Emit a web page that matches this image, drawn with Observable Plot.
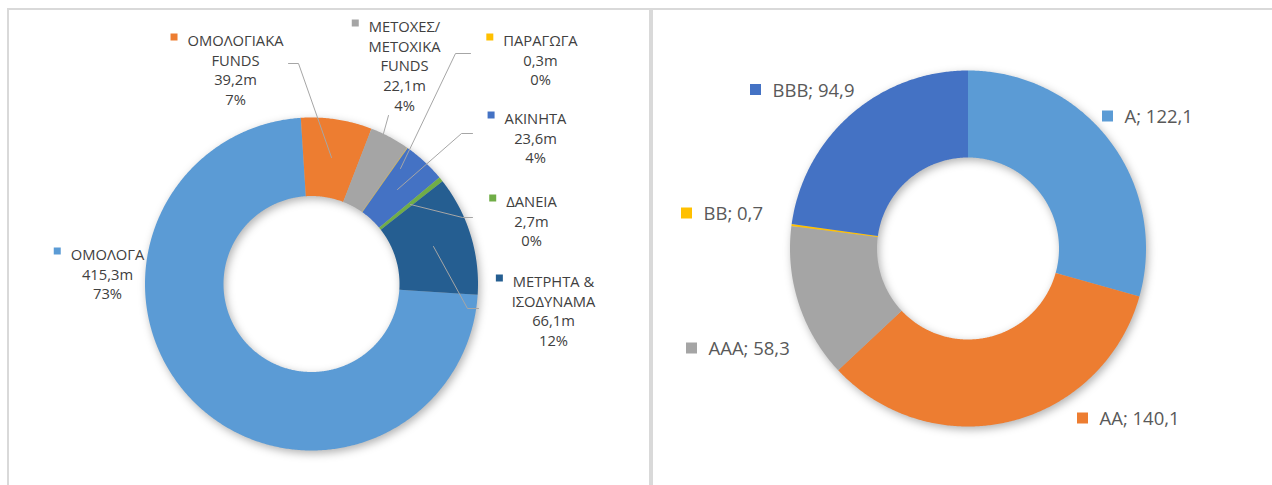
<!DOCTYPE html>
<html><head><meta charset="utf-8">
<script src="https://cdn.jsdelivr.net/npm/d3@7"></script>
<script src="https://cdn.jsdelivr.net/npm/@observablehq/plot@0.6"></script>
<style>
html,body{margin:0;padding:0;background:#fff;}
body{width:1272px;height:485px;position:relative;overflow:hidden;font-family:"Open Sans","Noto Sans",sans-serif;}
.panel{position:absolute;box-sizing:border-box;border:0 solid #d9d9d9;}
#left{left:7px;top:8px;width:644px;height:540px;border-top-width:2px;border-left-width:2px;border-right-width:2px;}
#right{left:651px;top:8px;width:640px;height:540px;border-top-width:2px;border-left-width:2px;}
.chart{position:absolute;top:0;left:0;}
</style></head><body>
<div id="left" class="panel"></div><div id="right" class="panel"></div>
<script>
// ---------- data ----------
const assetCategories = ["ΟΜΟΛΟΓΑ", "ΟΜΟΛΟΓΙΑΚΑ\nFUNDS", "ΜΕΤΟΧΕΣ/\nΜΕΤΟΧΙΚΑ\nFUNDS", "ΠΑΡΑΓΩΓΑ", "ΑΚΙΝΗΤΑ", "ΔΑΝΕΙΑ", "ΜΕΤΡΗΤΑ &\nΙΣΟΔΥΝΑΜΑ"];
const assetValues = [415.3, 39.2, 22.1, 0.3, 23.6, 2.7, 66.1];
const assetColors = ["#5B9BD5", "#ED7D31", "#A5A5A5", "#FFC000", "#4472C4", "#70AD47", "#255E91"];

const ratingCategories = ["A", "AA", "AAA", "BB", "BBB"];
const ratingValues = [122.1, 140.1, 58.3, 0.7, 94.9];
const ratingColors = ["#5B9BD5", "#ED7D31", "#A5A5A5", "#FFC000", "#4472C4"];

// ---------- layout (page pixels) ----------
const fam = '"Open Sans", "Noto Sans", sans-serif';
const leftLayout = {offX: 9, offY: 10, W: 640, H: 475, cx: 311, cy: 283.5, R: 166.5, inner: 88 / 166.5, start: 93.7};
const rightLayout = {offX: 653, offY: 10, W: 619, H: 475, cx: 967.5, cy: 248, R: 178, inner: 91 / 178, start: 0};
// label anchors: left = [text centre x, first line centre y]; right = [text start x, centre y]
const leftLabelPos = [[107, 251], [235, 37], [404, 23], [540, 37], [535, 115], [531, 198], [553, 278]];
const rightLabelPos = [[1124, 117], [1099, 419], [708, 349], [703, 214], [772, 90.5]];
const leftLeaders = [
  [[288, 63], [298, 63], [331, 157]],
  [[388, 115], [383, 133]],
  [[470, 53], [455, 53], [400, 168]],
  [[472, 133], [461, 133], [397, 189]],
  [[472, 217], [462, 217], [410, 204]],
  [[478, 308], [467, 308], [433, 246]]
];

// ---------- helpers ----------
const ctx = document.createElement("canvas").getContext("2d");
function measure(text, size) { ctx.font = `${size}px ${fam}`; return ctx.measureText(text).width; }
const leftFs = 100 * 96 / measure("ΟΜΟΛΟΓΙΑΚΑ", 100);
const rightFs = 100 * 82 / measure("BBB; 94,9", 100);

const comma = v => v.toFixed(1).replace(".", ",");
function ux(L, px) { return (px - L.cx) / L.R; }
function uy(L, py) { return -(py - L.cy) / L.R; }

function slicePolys(cats, vals, L) {
  const a0 = L.start * Math.PI / 180;
  const arcs = d3.pie().sort(null).value(d => d).startAngle(a0).endAngle(a0 + 2 * Math.PI)(vals);
  const rows = [];
  arcs.forEach((a, i) => {
    const n = Math.max(2, Math.ceil((a.endAngle - a.startAngle) / (Math.PI / 360)) + 1);
    const ang = k => a.startAngle + (a.endAngle - a.startAngle) * k / (n - 1);
    for (let k = 0; k < n; k++) rows.push({cat: cats[i], x: Math.sin(ang(k)), y: Math.cos(ang(k))});
    for (let k = n - 1; k >= 0; k--) rows.push({cat: cats[i], x: L.inner * Math.sin(ang(k)), y: L.inner * Math.cos(ang(k))});
  });
  return rows;
}

function scales(L) {
  const cx = L.cx - L.offX, cy = L.cy - L.offY;
  return {
    x: {type: "linear", domain: [-cx / L.R, (L.W - cx) / L.R], range: [0, L.W], axis: null},
    y: {type: "linear", domain: [cy / L.R, -(L.H - cy) / L.R], range: [0, L.H], axis: null}
  };
}

function shadow(svg) {
  const g = svg.querySelector('g[aria-label="line"]');
  if (g) g.style.filter = "drop-shadow(2px 3px 4px rgba(0,0,0,0.30))";
}

// ---------- left chart ----------
{
  const L = leftLayout;
  const total = d3.sum(assetValues);
  const labels = assetCategories.map((c, i) => {
    const first = c.split("\n")[0];
    const tx = leftLabelPos[i][0], ty = leftLabelPos[i][1];
    const w = measure(first, leftFs);
    return {
      cat: c,
      text: `${c}\n${comma(assetValues[i])}m\n${Math.round(assetValues[i] / total * 100)}%`,
      x: ux(L, tx), y: uy(L, ty - 0.357 * leftFs),
      sx: ux(L, tx - w / 2 - 10 - 3.5), sy: uy(L, ty - 0.5)
    };
  });
  const leaders = leftLeaders.flatMap((pts, j) => pts.map(p => ({id: j, x: ux(L, p[0]), y: uy(L, p[1])})));
  const s = scales(L);
  const svg = Plot.plot({
    width: L.W, height: L.H, margin: 0,
    x: s.x, y: s.y,
    color: {domain: assetCategories, range: assetColors, legend: false},
    style: {fontFamily: fam, background: "none", overflow: "visible"},
    marks: [
      Plot.line(slicePolys(assetCategories, assetValues, L), {x: "x", y: "y", z: "cat", fill: "cat", stroke: "none"}),
      Plot.line(leaders, {x: "x", y: "y", z: "id", stroke: "#a6a6a6", strokeWidth: 1}),
      Plot.dot(labels, {x: "sx", y: "sy", fill: "cat", symbol: "square", r: 7 / Math.sqrt(Math.PI), stroke: "none"}),
      Plot.text(labels, {x: "x", y: "y", text: "text", textAnchor: "middle", lineAnchor: "top", lineHeight: 19.6 / leftFs, fontSize: leftFs, fill: "#404040"})
    ]
  });
  svg.classList.add("chart");
  shadow(svg);
  document.getElementById("left").appendChild(svg);
}

// ---------- right chart ----------
{
  const L = rightLayout;
  const side = 11;
  const labels = ratingCategories.map((c, i) => {
    const tx = rightLabelPos[i][0], ty = rightLabelPos[i][1];
    return {
      cat: c,
      text: `${c}; ${comma(ratingValues[i])}`,
      x: ux(L, tx), y: uy(L, ty),
      sx: ux(L, tx - 11.5 - side / 2), sy: uy(L, ty - 1.5)
    };
  });
  const s = scales(L);
  const svg = Plot.plot({
    width: L.W, height: L.H, margin: 0,
    x: s.x, y: s.y,
    color: {domain: ratingCategories, range: ratingColors, legend: false},
    style: {fontFamily: fam, background: "none", overflow: "visible"},
    marks: [
      Plot.line(slicePolys(ratingCategories, ratingValues, L), {x: "x", y: "y", z: "cat", fill: "cat", stroke: "none"}),
      Plot.dot(labels, {x: "sx", y: "sy", fill: "cat", symbol: "square", r: side / Math.sqrt(Math.PI), stroke: "none"}),
      Plot.text(labels, {x: "x", y: "y", text: "text", textAnchor: "start", lineAnchor: "middle", fontSize: rightFs, fill: "#595959"})
    ]
  });
  svg.classList.add("chart");
  shadow(svg);
  document.getElementById("right").appendChild(svg);
}
</script>
</body></html>
